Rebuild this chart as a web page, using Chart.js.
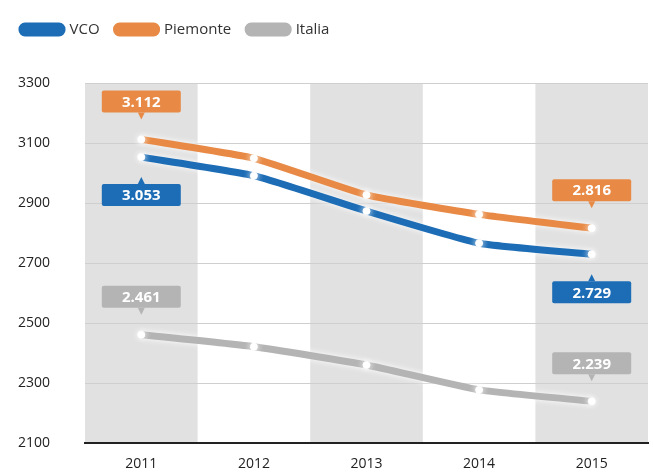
<!DOCTYPE html>
<html>
<head>
<meta charset="utf-8">
<script src="https://cdn.jsdelivr.net/npm/chart.js@4"></script>
<style>
	html, body { margin: 0; padding: 0; background: #fff; }
	#wrap { width: 653px; height: 473px; }
</style>
</head>
<body>
<div id="wrap"><canvas id="chart" width="653" height="473"></canvas></div>
<script>
const years = ['2011', '2012', '2013', '2014', '2015'];
const vco = [3053, 2991, 2873, 2766, 2729];
const piemonte = [3112, 3049, 2927, 2862, 2816];
const italia = [2461, 2421, 2360, 2277, 2239];
const yTicks = [2100, 2300, 2500, 2700, 2900, 3100, 3300];

// etichette a fumetto: serie, anno, sopra/sotto
const callouts = [
	{ ds: 1, i: 0, pos: 'above' },
	{ ds: 0, i: 0, pos: 'below' },
	{ ds: 2, i: 0, pos: 'above' },
	{ ds: 1, i: 4, pos: 'above' },
	{ ds: 0, i: 4, pos: 'below' },
	{ ds: 2, i: 4, pos: 'above' }
];

const blue = '#1c6db6';
const orange = '#e88a45';
const grey = '#b4b4b4';

function fmt(v) {
	return String(v).replace(/\B(?=(\d{3})+(?!\d))/g, '.');
}

// bande grigie alternate
const bands = {
	id: 'bands',
	beforeDraw(chart) {
		const { ctx, chartArea, scales } = chart;
		const x = scales.x;
		const half = (x.getPixelForValue(1) - x.getPixelForValue(0)) / 2;
		ctx.save();
		ctx.fillStyle = '#e1e1e1';
		years.forEach((y, i) => {
			if (i % 2) return;
			const c = x.getPixelForValue(i);
			ctx.fillRect(c - half, chartArea.top, half * 2, chartArea.bottom - chartArea.top);
		});
		ctx.restore();
	}
};

// alone bianco intorno alle linee
const glow = {
	id: 'glow',
	beforeDatasetDraw(chart) {
		chart.ctx.save();
		chart.ctx.shadowColor = 'rgba(255,255,255,0.95)';
		chart.ctx.shadowBlur = 6;
	},
	afterDatasetDraw(chart) {
		chart.ctx.restore();
	}
};

const labels = {
	id: 'labels',
	afterDatasetsDraw(chart) {
		const ctx = chart.ctx;
		ctx.save();
		callouts.forEach(c => {
			const ds = chart.data.datasets[c.ds];
			const pt = chart.getDatasetMeta(c.ds).data[c.i];
			const w = 79, h = 22, gap = 27, tri = 7;
			const cx = pt.x;
			const top = c.pos === 'above' ? pt.y - gap - h : pt.y + gap;
			ctx.fillStyle = ds.borderColor;
			ctx.beginPath();
			ctx.roundRect(cx - w / 2, top, w, h, 2);
			ctx.fill();
			ctx.beginPath();
			if (c.pos === 'above') {
				ctx.moveTo(cx - tri / 2, top + h);
				ctx.lineTo(cx + tri / 2, top + h);
				ctx.lineTo(cx, top + h + tri);
			} else {
				ctx.moveTo(cx - tri / 2, top);
				ctx.lineTo(cx + tri / 2, top);
				ctx.lineTo(cx, top - tri);
			}
			ctx.fill();
			ctx.fillStyle = '#fff';
			ctx.font = 'bold 15px "Open Sans"';
			ctx.textAlign = 'center';
			ctx.textBaseline = 'middle';
			ctx.fillText(fmt(ds.data[c.i]), cx, top + h / 2 + 1);
		});
		ctx.restore();
	}
};

const legendSpace = {
	id: 'legendSpace',
	beforeInit(chart) {
		const fit = chart.legend.fit;
		chart.legend.fit = function () {
			fit.bind(this)();
			this.height += 36;
		};
	}
};

function line(label, data, color) {
	return {
		label: label,
		data: data,
		borderColor: color,
		backgroundColor: color,
		borderWidth: 7,
		tension: 0.15,
		pointRadius: 3.5,
		pointBackgroundColor: '#fff',
		pointBorderColor: '#fff',
		pointBorderWidth: 1
	};
}

new Chart(document.getElementById('chart'), {
	type: 'line',
	data: {
		labels: years,
		datasets: [
			line('VCO', vco, blue),
			line('Piemonte', piemonte, orange),
			line('Italia', italia, grey)
		]
	},
	options: {
		responsive: false,
		animation: false,
		layout: { padding: { top: 5, left: 5, right: 5, bottom: 0 } },
		plugins: {
			legend: {
				align: 'start',
				labels: {
					boxWidth: 40,
					boxHeight: 7,
					useBorderRadius: true,
					borderRadius: 3,
					padding: 17,
					color: '#333',
					font: { family: 'Open Sans', size: 15 }
				}
			},
			tooltip: { enabled: false }
		},
		scales: {
			x: {
				offset: true,
				grid: { display: false },
				border: { color: '#222', width: 2 },
				afterFit(axis) { axis.height = 30; },
				ticks: { color: '#222', padding: 5, font: { family: 'Open Sans', size: 14 } }
			},
			y: {
				min: yTicks[0],
				max: yTicks[yTicks.length - 1],
				afterBuildTicks(axis) { axis.ticks = yTicks.map(v => ({ value: v })); },
				afterFit(axis) {
					axis.width = 80;
					axis.paddingTop = 0;
					axis.paddingBottom = 0;
				},
				grid: { color: '#cfcfcf', drawTicks: false },
				border: { display: false },
				ticks: {
					color: '#222',
					padding: 35,
					font: { family: 'Open Sans', size: 14 },
					callback: v => String(v)
				}
			}
		}
	},
	plugins: [bands, glow, labels, legendSpace]
});
</script>
</body>
</html>
